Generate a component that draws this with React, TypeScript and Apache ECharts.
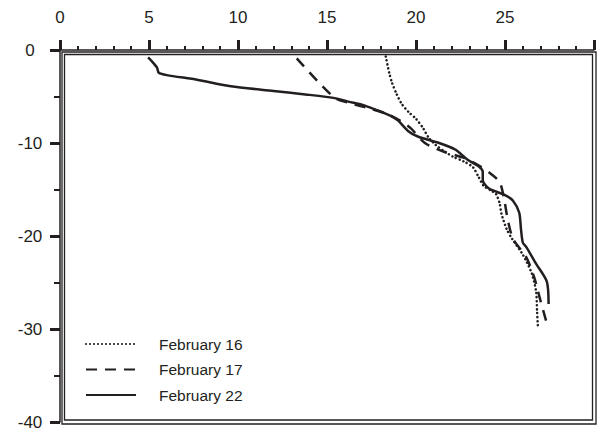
import React, { useEffect, useRef } from "react";
import * as echarts from "echarts";

const seriesNames = ["February 16", "February 17", "February 22"];

const xTicks = [0, 5, 10, 15, 20, 25, 30];
const yTicks = [0, -10, -20, -30, -40];

const feb16Temp = [18.3, 18.5, 18.65, 18.9, 19.2, 19.6, 20.0, 20.4, 20.7, 21.1, 21.6, 22.1, 22.7, 23.2, 23.5, 23.8, 24.2, 24.5, 24.7, 24.8, 25.1, 25.4, 26.0, 26.5, 26.75, 26.8, 26.85];
const feb16Depth = [-0.7, -2.5, -3.5, -4.7, -5.8, -6.7, -7.4, -8.4, -9.4, -10.2, -10.9, -11.5, -12.0, -12.6, -13.6, -14.6, -15.1, -15.5, -16.5, -17.6, -19.3, -20.3, -22.0, -24.0, -26.0, -28.0, -29.8];

const feb17Temp = [13.3, 15.4, 16.35, 17.4, 18.4, 19.1, 19.7, 20.5, 21.5, 22.7, 23.65, 24.2, 24.7, 24.95, 25.15, 25.45, 26.2, 26.65, 27.0, 27.35];
const feb17Depth = [-0.9, -5.1, -5.75, -6.3, -6.9, -7.6, -8.4, -10.0, -10.9, -11.6, -12.55, -13.3, -14.2, -16.0, -18.2, -20.3, -22.3, -24.5, -27.0, -29.4];

const feb22Temp = [4.95, 5.2, 5.45, 5.55, 6.0, 7.7, 9.6, 12.0, 13.9, 15.5, 16.2, 17.0, 17.7, 18.6, 19.0, 19.55, 20.1, 21.3, 22.2, 22.9, 23.55, 23.75, 23.75, 24.1, 25.0, 25.45, 25.8, 25.9, 26.0, 26.2, 26.75, 27.35, 27.45];
const feb22Depth = [-0.8, -1.3, -1.9, -2.45, -2.7, -3.2, -3.9, -4.4, -4.8, -5.2, -5.55, -5.9, -6.4, -7.1, -7.6, -8.7, -9.3, -10.0, -10.7, -11.8, -12.55, -13.1, -14.0, -14.9, -15.6, -16.2, -17.5, -19.3, -20.7, -21.2, -23.0, -24.9, -27.3];

const pair = (xs: number[], ys: number[]) => xs.map((x, i) => [x, ys[i]]);

const INK = "#231f20";
const FONT = "'Liberation Sans', Arial, sans-serif";

export default function App() {
  const ref = useRef<HTMLDivElement>(null);

  useEffect(() => {
    if (!ref.current) return;
    const chart = echarts.init(ref.current, null, { renderer: "svg" });
    const lineBase = { color: INK, width: 2.5 };
    chart.setOption({
      animation: false,
      backgroundColor: "#ffffff",
      grid: { left: 60, top: 50, width: 534, height: 372, containLabel: false },
      xAxis: {
        type: "value",
        position: "top",
        min: xTicks[0],
        max: xTicks[xTicks.length - 1],
        interval: 5,
        axisLine: { show: true, onZero: false, lineStyle: { color: INK, width: 1.5 } },
        axisTick: { show: true, length: 10, lineStyle: { color: INK, width: 3 } },
        minorTick: { show: true, splitNumber: 5, length: 4, lineStyle: { color: INK, width: 2 } },
        splitLine: { show: false },
        axisLabel: {
          show: true,
          margin: 24,
          color: INK,
          fontSize: 17,
          fontFamily: FONT,
          showMaxLabel: false,
          formatter: (v: number) => (xTicks.includes(v) && v !== 30 ? String(v) : ""),
        },
      },
      yAxis: {
        type: "value",
        min: yTicks[yTicks.length - 1],
        max: yTicks[0],
        interval: 10,
        axisLine: { show: true, onZero: false, lineStyle: { color: INK, width: 1.5 } },
        axisTick: { show: true, length: 10, lineStyle: { color: INK, width: 3 } },
        minorTick: { show: true, splitNumber: 2, length: 6, lineStyle: { color: INK, width: 2 } },
        splitLine: { show: false },
        axisLabel: {
          show: true,
          margin: 30,
          align: "center",
          color: INK,
          fontSize: 17,
          fontFamily: FONT,
        },
      },
      legend: {
        show: true,
        orient: "vertical",
        left: 85,
        top: 336,
        padding: 0,
        itemWidth: 50,
        itemHeight: 14,
        itemGap: 9.5,
        itemStyle: { opacity: 0 },
        textStyle: { color: INK, fontSize: 15.5, fontFamily: FONT, padding: [0, 0, 0, 18] },
        data: seriesNames,
      },
      graphic: [
        {
          type: "rect",
          silent: true,
          z: 0,
          shape: { x: 62, y: 52, width: 534, height: 372 },
          style: { fill: "none", stroke: INK, lineWidth: 1.3 },
        },
        {
          type: "rect",
          silent: true,
          z: 0,
          shape: { x: 64.5, y: 54.5, width: 528, height: 365.5 },
          style: { fill: "none", stroke: INK, lineWidth: 1.3 },
        },
      ],
      series: [
        {
          name: seriesNames[0],
          type: "line",
          data: pair(feb16Temp, feb16Depth),
          symbol: "none",
          smooth: 0.25,
          itemStyle: { color: INK },
          lineStyle: { ...lineBase, type: [0.1, 3.9], cap: "round" },
        },
        {
          name: seriesNames[1],
          type: "line",
          data: pair(feb17Temp, feb17Depth),
          symbol: "none",
          smooth: 0.25,
          itemStyle: { color: INK },
          lineStyle: { ...lineBase, type: [11, 8] },
        },
        {
          name: seriesNames[2],
          type: "line",
          data: pair(feb22Temp, feb22Depth),
          symbol: "none",
          smooth: 0.25,
          itemStyle: { color: INK },
          lineStyle: { ...lineBase },
        },
      ],
    });
    return () => chart.dispose();
  }, []);

  return (
    <div
      ref={ref}
      style={{ position: "absolute", left: 0, top: 0, width: 602, height: 440 }}
    />
  );
}
